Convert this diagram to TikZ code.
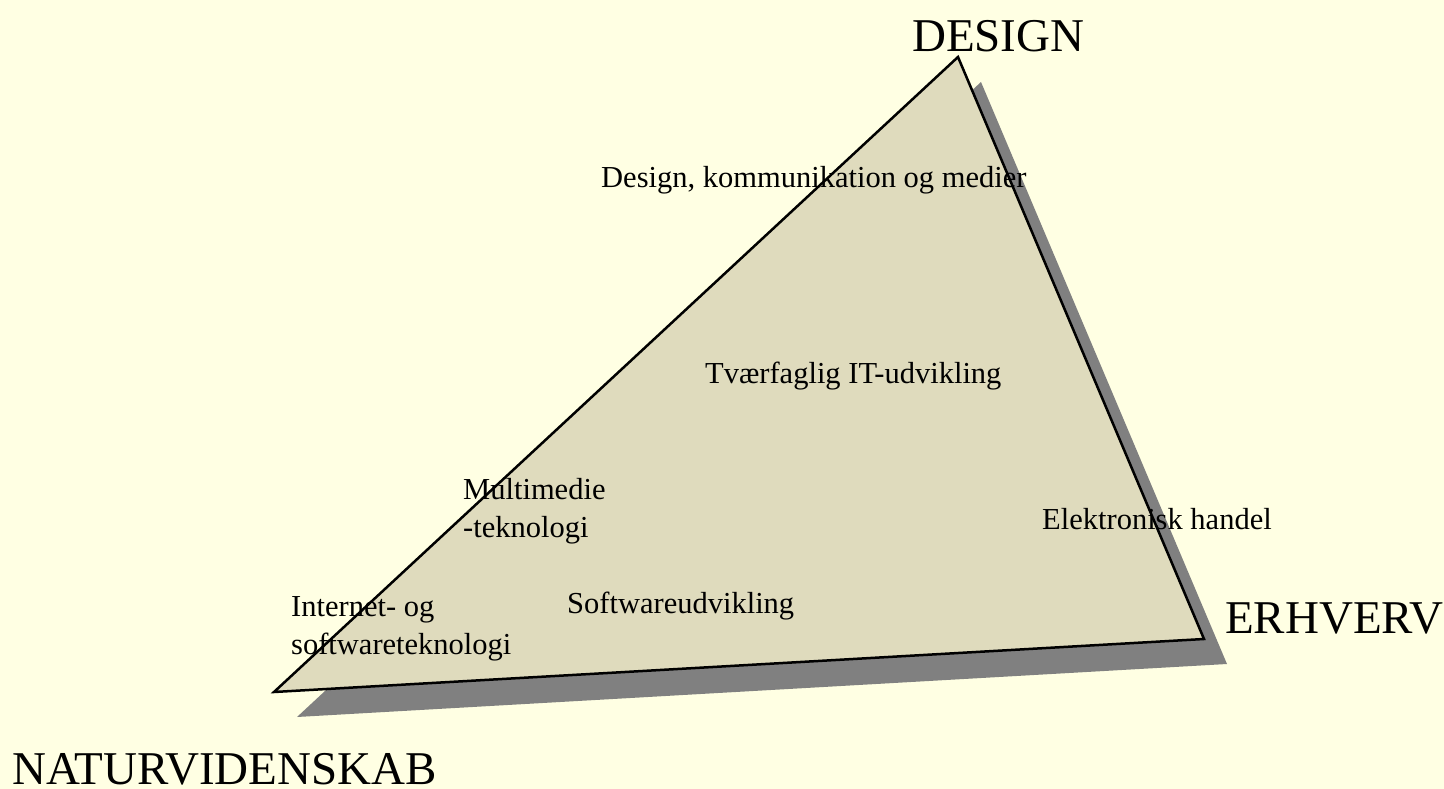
\documentclass[tikz,border=0pt]{standalone}
\usepackage{fontspec}
\setmainfont{Liberation Serif}
\definecolor{paper}{HTML}{FFFFE3}
\definecolor{sand}{HTML}{DFDBBD}
\definecolor{shadowgray}{HTML}{808080}
\tikzset{
  corner/.style={anchor=base west,inner sep=0pt,font=\fontsize{47}{50}\selectfont},
  field/.style={anchor=base west,inner sep=0pt,align=left,font=\fontsize{30.5}{37.5}\selectfont}
}
\begin{document}
\begin{tikzpicture}[x=1pt,y=-1pt]
\useasboundingbox (0,0) rectangle (1444,789);
\fill[paper] (0,0) rectangle (1444,789);
\coordinate (top) at (958,57);
\coordinate (right) at (1204,639);
\coordinate (left) at (274,692);
\fill[shadowgray] ([shift={(23,25)}]top) -- ([shift={(23,25)}]right) -- ([shift={(23,25)}]left) -- cycle;
\filldraw[fill=sand,draw=black,line width=2.5pt,line join=miter] (top) -- (right) -- (left) -- cycle;
\node[corner] (design) at (912,52) {DESIGN};
\node[corner] (erhverv) at (1225,633) {ERHVERV};
\node[corner] (natur) at (12,784) {NATURVIDENSKAB};
\node[field] (dkm) at (601,188) {Design, kommunikation og medier};
\node[field] (tvaer) at (705,383) {Tværfaglig IT-udvikling};
\node[field] (multi) at (463,537) {Multimedie\\-teknologi};
\node[field] (handel) at (1042,529) {Elektronisk handel};
\node[field] (inet) at (291,654) {Internet- og\\softwareteknologi};
\node[field] (soft) at (567,613) {Softwareudvikling};
\end{tikzpicture}
\end{document}
